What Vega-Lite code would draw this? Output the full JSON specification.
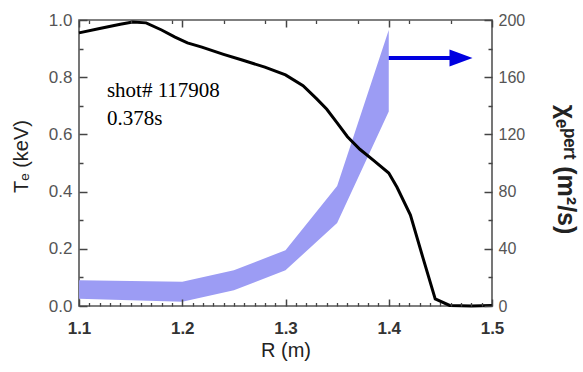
{
  "$schema": "https://vega.github.io/schema/vega-lite/v6.json",
  "width": 413,
  "height": 286,
  "autosize": {"type": "none"},
  "padding": {"left": 79, "top": 20, "right": 91, "bottom": 66},
  "background": "white",
  "config": {
    "view": {"stroke": "#555", "strokeWidth": 1.6},
    "axis": {
      "domain": false,
      "ticks": true,
      "tickColor": "#444",
      "tickOpacity": 1,
      "tickWidth": 1.5,
      "zindex": 1,
      "grid": false,
      "labelFont": "Liberation Sans",
      "titleFont": "Liberation Sans, DejaVu Sans",
      "labelOverlap": false,
      "labelBound": false,
      "labelFlush": false
    }
  },
  "datasets": {
    "band": [
      {"R": 1.10, "lo": 5, "hi": 18},
      {"R": 1.20, "lo": 3, "hi": 17},
      {"R": 1.25, "lo": 11, "hi": 25},
      {"R": 1.30, "lo": 25, "hi": 39},
      {"R": 1.35, "lo": 58, "hi": 84},
      {"R": 1.40, "lo": 136, "hi": 193}
    ],
    "arrow": [{"x1": 1.40, "x2": 1.462, "y": 173.5, "hx": 1.470}],
    "te": [
      {"R": 1.100, "Te": 0.955},
      {"R": 1.120, "Te": 0.970},
      {"R": 1.140, "Te": 0.985},
      {"R": 1.152, "Te": 0.993},
      {"R": 1.165, "Te": 0.990},
      {"R": 1.180, "Te": 0.965},
      {"R": 1.193, "Te": 0.940},
      {"R": 1.205, "Te": 0.920},
      {"R": 1.219, "Te": 0.905},
      {"R": 1.240, "Te": 0.880},
      {"R": 1.258, "Te": 0.860},
      {"R": 1.280, "Te": 0.835},
      {"R": 1.300, "Te": 0.808},
      {"R": 1.317, "Te": 0.770},
      {"R": 1.330, "Te": 0.725},
      {"R": 1.340, "Te": 0.688},
      {"R": 1.350, "Te": 0.640},
      {"R": 1.360, "Te": 0.592},
      {"R": 1.372, "Te": 0.548},
      {"R": 1.385, "Te": 0.510},
      {"R": 1.400, "Te": 0.465},
      {"R": 1.408, "Te": 0.415},
      {"R": 1.421, "Te": 0.318},
      {"R": 1.433, "Te": 0.170},
      {"R": 1.445, "Te": 0.025},
      {"R": 1.459, "Te": 0.002},
      {"R": 1.480, "Te": 0.000},
      {"R": 1.500, "Te": 0.002}
    ],
    "labels": [
      {"R": 1.127, "Te": 0.731, "label": "shot# 117908"},
      {"R": 1.127, "Te": 0.633, "label": "0.378s"}
    ]
  },
  "layer": [
    {
      "data": {"name": "band"},
      "mark": {"type": "area", "color": "#9c9cf4", "opacity": 1},
      "encoding": {
        "x": {
          "field": "R", "type": "quantitative",
          "scale": {"domain": [1.1, 1.5], "nice": false, "zero": false},
          "axis": {
            "orient": "bottom",
            "title": "R (m)",
            "values": [1.1, 1.2, 1.3, 1.4, 1.5],
            "format": ".1f",
            "offset": -7,
            "ticks": true,
            "tickSize": 7,
            "tickColor": "#444",
            "tickOpacity": 1,
            "tickWidth": 1.5,
            "zindex": 1,
            "encode": {"ticks": {"update": {"stroke": {"value": "#444"}, "strokeOpacity": {"value": 1}, "opacity": {"value": 1}, "strokeWidth": {"value": 1.5}}}},
            "labelOverlap": false,
            "labelFontSize": 17,
            "labelFontWeight": "bold",
            "labelColor": "#333",
            "labelPadding": 14,
            "titleFontSize": 20,
            "titleFontWeight": "normal",
            "titleColor": "#222",
            "titlePadding": 4
          }
        },
        "y": {
          "field": "lo", "type": "quantitative",
          "scale": {"domain": [0, 200], "nice": false},
          "axis": {
            "orient": "right",
            "title": "χₑᵖᵉʳᵗ (m²/s)",
            "values": [0, 40, 80, 120, 160, 200],
            "offset": -8,
            "ticks": true,
            "tickSize": 8,
            "tickColor": "#444",
            "tickOpacity": 1,
            "tickWidth": 1.5,
            "zindex": 1,
            "encode": {"ticks": {"update": {"stroke": {"value": "#444"}, "strokeOpacity": {"value": 1}, "opacity": {"value": 1}, "strokeWidth": {"value": 1.5}}}},
            "labelOverlap": false,
            "labelFontSize": 16,
            "labelColor": "#555",
            "labelPadding": 6,
            "titleFontSize": 25,
            "titleFontWeight": "bold",
            "titleColor": "#222",
            "titlePadding": 28,
            "titleY": 149
          }
        },
        "y2": {"field": "hi"}
      }
    },
    {
      "data": {"name": "te"},
      "mark": {"type": "line", "color": "black", "strokeWidth": 3},
      "encoding": {
        "x": {
          "field": "R", "type": "quantitative",
          "scale": {"domain": [1.1, 1.5], "nice": false, "zero": false},
          "axis": {
            "orient": "top",
            "title": null,
            "labels": false,
            "values": [1.1, 1.2, 1.3, 1.4, 1.5],
            "offset": -7,
            "ticks": true,
            "tickSize": 7,
            "tickColor": "#444",
            "tickOpacity": 1,
            "tickWidth": 1.5,
            "zindex": 1,
            "encode": {"ticks": {"update": {"stroke": {"value": "#444"}, "strokeOpacity": {"value": 1}, "opacity": {"value": 1}, "strokeWidth": {"value": 1.5}}}}
          }
        },
        "y": {
          "field": "Te", "type": "quantitative",
          "scale": {"domain": [0, 1], "nice": false},
          "axis": {
            "orient": "left",
            "title": "Tₑ (keV)",
            "values": [0, 0.2, 0.4, 0.6, 0.8, 1.0],
            "format": ".1f",
            "offset": -8,
            "ticks": true,
            "tickSize": 8,
            "tickColor": "#444",
            "tickOpacity": 1,
            "tickWidth": 1.5,
            "zindex": 1,
            "encode": {"ticks": {"update": {"stroke": {"value": "#444"}, "strokeOpacity": {"value": 1}, "opacity": {"value": 1}, "strokeWidth": {"value": 1.5}}}},
            "labelOverlap": false,
            "labelFontSize": 17,
            "labelColor": "#555",
            "labelPadding": 7,
            "titleFontSize": 20,
            "titleFontWeight": "normal",
            "titleColor": "#222",
            "titlePadding": 17,
            "titleY": 136
          }
        }
      }
    },
    {
      "data": {"name": "labels"},
      "mark": {"type": "text", "align": "left", "baseline": "alphabetic", "font": "Liberation Serif", "fontSize": 21, "color": "black"},
      "encoding": {
        "x": {
          "field": "R", "type": "quantitative",
          "scale": {"domain": [1.1, 1.5], "nice": false, "zero": false},
          "axis": {
            "orient": "bottom",
            "title": null,
            "labels": false,
            "values": [1.11,1.12,1.13,1.14,1.15,1.16,1.17,1.18,1.19,1.21,1.22,1.23,1.24,1.25,1.26,1.27,1.28,1.29,1.31,1.32,1.33,1.34,1.35,1.36,1.37,1.38,1.39,1.41,1.42,1.43,1.44,1.45,1.46,1.47,1.48,1.49],
            "offset": -3.5,
            "ticks": true,
            "tickSize": 3.5,
            "tickColor": "#444",
            "tickOpacity": 1,
            "tickWidth": 1.3,
            "zindex": 1,
            "encode": {"ticks": {"update": {"stroke": {"value": "#444"}, "strokeOpacity": {"value": 1}, "opacity": {"value": 1}, "strokeWidth": {"value": 1.3}}}}
          }
        },
        "y": {
          "field": "Te", "type": "quantitative",
          "scale": {"domain": [0, 1], "nice": false},
          "axis": {
            "orient": "left",
            "title": null,
            "labels": false,
            "values": [0.1, 0.3, 0.5, 0.7, 0.9],
            "offset": -4,
            "ticks": true,
            "tickSize": 4,
            "tickColor": "#444",
            "tickOpacity": 1,
            "tickWidth": 1.5,
            "zindex": 1,
            "encode": {"ticks": {"update": {"stroke": {"value": "#444"}, "strokeOpacity": {"value": 1}, "opacity": {"value": 1}, "strokeWidth": {"value": 1.5}}}}
          }
        },
        "text": {"field": "label"}
      }
    },
    {
      "data": {"name": "arrow"},
      "layer": [
        {
          "mark": {"type": "rule", "color": "#0000e0", "strokeWidth": 4},
          "encoding": {
            "x": {
              "field": "x1", "type": "quantitative",
              "scale": {"domain": [1.1, 1.5], "nice": false, "zero": false},
              "axis": {
                "orient": "top",
                "title": null,
                "labels": false,
                "values": [1.11,1.12,1.13,1.14,1.15,1.16,1.17,1.18,1.19,1.21,1.22,1.23,1.24,1.25,1.26,1.27,1.28,1.29,1.31,1.32,1.33,1.34,1.35,1.36,1.37,1.38,1.39,1.41,1.42,1.43,1.44,1.45,1.46,1.47,1.48,1.49],
                "offset": -3.5,
                "ticks": true,
                "tickSize": 3.5,
                "tickColor": "#444",
                "tickOpacity": 1,
                "tickWidth": 1.3,
                "zindex": 1,
                "encode": {"ticks": {"update": {"stroke": {"value": "#444"}, "strokeOpacity": {"value": 1}, "opacity": {"value": 1}, "strokeWidth": {"value": 1.3}}}}
              }
            },
            "x2": {"field": "x2"},
            "y": {
              "field": "y", "type": "quantitative",
              "scale": {"domain": [0, 200], "nice": false},
              "axis": {
                "orient": "right",
                "title": null,
                "labels": false,
                "values": [20, 60, 100, 140, 180],
                "offset": -4,
                "ticks": true,
                "tickSize": 4,
                "tickColor": "#444",
                "tickOpacity": 1,
                "tickWidth": 1.5,
                "zindex": 1,
                "encode": {"ticks": {"update": {"stroke": {"value": "#444"}, "strokeOpacity": {"value": 1}, "opacity": {"value": 1}, "strokeWidth": {"value": 1.5}}}}
              }
            }
          }
        },
        {
          "mark": {"type": "point", "shape": "M-1,-0.74L1,0L-1,0.74Z", "filled": true, "color": "#0000e0", "opacity": 1, "size": 529},
          "encoding": {
            "x": {"field": "hx", "type": "quantitative"},
            "y": {"field": "y", "type": "quantitative"}
          }
        }
      ]
    }
  ],
  "resolve": {
    "scale": {"y": "independent"},
    "axis": {"x": "independent", "y": "independent"}
  }
}
